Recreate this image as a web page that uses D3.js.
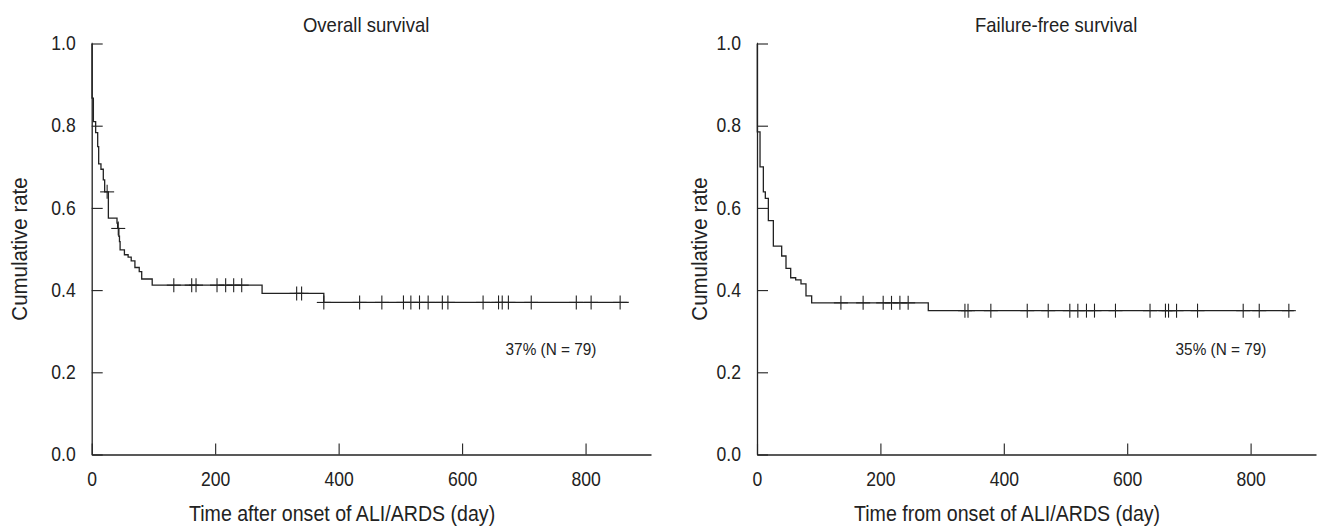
<!DOCTYPE html>
<html>
<head>
<meta charset="utf-8">
<script src="https://cdn.jsdelivr.net/npm/d3@7"></script>
<style>
  html, body { margin: 0; padding: 0; background: #fff; }
  svg { display: block; }
  text { font-family: "Liberation Sans", Arial, Helvetica, sans-serif; fill: #222; }
</style>
</head>
<body>
<svg id="chart" width="1317" height="526"></svg>
<script>
// ---------- Data ----------
const xTicks = [0, 200, 400, 600, 800];
const yTicks = [0, 0.2, 0.4, 0.6, 0.8, 1.0];

// Overall survival: step times (days) and survival after each step
const osTimes = [0, 0.5, 2.7, 6.4, 9.7, 11.3, 15, 18.8, 21, 27, 41, 42, 44, 45, 46, 53, 59, 64, 70, 77, 81, 98, 276, 376];
const osSurv  = [1, 0.867, 0.810, 0.783, 0.749, 0.707, 0.694, 0.668, 0.639, 0.575, 0.563, 0.550, 0.531, 0.518, 0.498, 0.486, 0.480, 0.471, 0.455, 0.445, 0.427, 0.412, 0.392, 0.370];
const osEnd = 870;
const osCensor = [25, 43, 133, 162, 169, 203, 217, 230, 243, 332, 340, 376, 434, 470, 505, 517, 531, 545, 568, 577, 634, 659, 665, 675, 712, 785, 809, 856];

// Failure-free survival
const ffsTimes = [0, 0.5, 4.9, 10.3, 13.5, 18.4, 26.5, 40, 47, 54.6, 62.7, 71.3, 79.4, 88.6, 277.6];
const ffsSurv  = [1, 0.785, 0.700, 0.639, 0.623, 0.569, 0.507, 0.483, 0.453, 0.430, 0.425, 0.415, 0.386, 0.369, 0.350];
const ffsEnd = 870;
const ffsCensor = [136, 172, 204.5, 218, 231.6, 245, 337, 342, 379, 438, 472, 507, 520, 534, 547, 581, 637, 662, 667, 680, 714, 788, 814, 862];

const panels = [
  { title: "Overall survival", xlabel: "Time after onset of ALI/ARDS (day)", note: "37% (N = 79)",
    times: osTimes, surv: osSurv, end: osEnd, censor: osCensor,
    x0: 91.7, x1: 651, titleX: 303, xlabX: 189, ylabX: 27, noteX: 551 },
  { title: "Failure-free survival", xlabel: "Time from onset of ALI/ARDS (day)", note: "35% (N = 79)",
    times: ffsTimes, surv: ffsSurv, end: ffsEnd, censor: ffsCensor,
    x0: 757, x1: 1316, titleX: 975, xlabX: 854, ylabX: 707, noteX: 1221 }
];

const svg = d3.select("#chart");
const ink = "#222";
const yTop = 43.5, yBot = 454.5;
const y = d3.scaleLinear().domain([0, 1]).range([yBot, yTop]);

// condense text horizontally (the reference uses a narrow face)
function condense(sel, f) {
  sel.each(function () {
    const w = this.getComputedTextLength();
    this.setAttribute("textLength", (w * f).toFixed(2));
    this.setAttribute("lengthAdjust", "spacingAndGlyphs");
  });
}

panels.forEach(p => {
  const x = d3.scaleLinear().domain([0, 906]).range([p.x0, p.x1]);
  const g = svg.append("g");

  // x axis
  const xa = g.append("g").attr("transform", `translate(0,${yBot})`)
    .call(d3.axisBottom(x).tickValues(xTicks).tickSizeInner(-11).tickSizeOuter(0).tickPadding(18).tickFormat(d3.format("d")));
  // y axis
  const ya = g.append("g").attr("transform", `translate(${p.x0},0)`)
    .call(d3.axisLeft(y).tickValues(yTicks).tickSizeInner(-11).tickSizeOuter(0).tickPadding(16).tickFormat(d3.format(".1f")));
  [xa, ya].forEach(a => {
    a.selectAll("path").attr("stroke", ink).attr("stroke-width", 1.3);
    a.selectAll("line").attr("stroke", ink).attr("stroke-width", 1.1);
    a.selectAll("text").style("font-family", null).style("font-size", "19.5px").attr("fill", ink);
    condense(a.selectAll("text"), 0.9);
  });

  // step curve
  const pts = p.times.map((t, i) => [t, p.surv[i]]);
  pts.push([p.end, p.surv[p.surv.length - 1]]);
  const line = d3.line().x(d => x(d[0])).y(d => y(d[1])).curve(d3.curveStepAfter);
  g.append("path").datum(pts).attr("d", line)
    .attr("fill", "none").attr("stroke", ink).attr("stroke-width", 1.3);

  // censor marks
  const survAt = t => {
    let s = p.surv[0];
    for (let i = 0; i < p.times.length; i++) if (p.times[i] <= t) s = p.surv[i];
    return s;
  };
  const cg = g.append("g").attr("stroke", ink).attr("stroke-width", 1.1);
  p.censor.forEach(t => {
    const cx = x(t), cy = y(survAt(t));
    cg.append("line").attr("x1", cx).attr("x2", cx).attr("y1", cy - 7).attr("y2", cy + 7);
    cg.append("line").attr("x1", cx - 7).attr("x2", cx + 7).attr("y1", cy).attr("y2", cy);
  });

  // labels
  const t1 = g.append("text").attr("x", p.titleX).attr("y", 31.5).attr("text-anchor", "start")
    .style("font-size", "21px").text(p.title);
  condense(t1, 0.88);
  const t2 = g.append("text").attr("x", p.xlabX).attr("y", 521).attr("text-anchor", "start")
    .style("font-size", "22px").text(p.xlabel);
  condense(t2, 0.89);
  const t3 = g.append("text").attr("transform", `translate(${p.ylabX},${(yTop + yBot) / 2}) rotate(-90)`)
    .attr("text-anchor", "middle").style("font-size", "22px").text("Cumulative rate");
  condense(t3, 0.93);
  const t4 = g.append("text").attr("x", p.noteX).attr("y", 355).attr("text-anchor", "middle")
    .style("font-size", "16.5px").text(p.note);
  condense(t4, 0.93);
});
</script>
</body>
</html>
